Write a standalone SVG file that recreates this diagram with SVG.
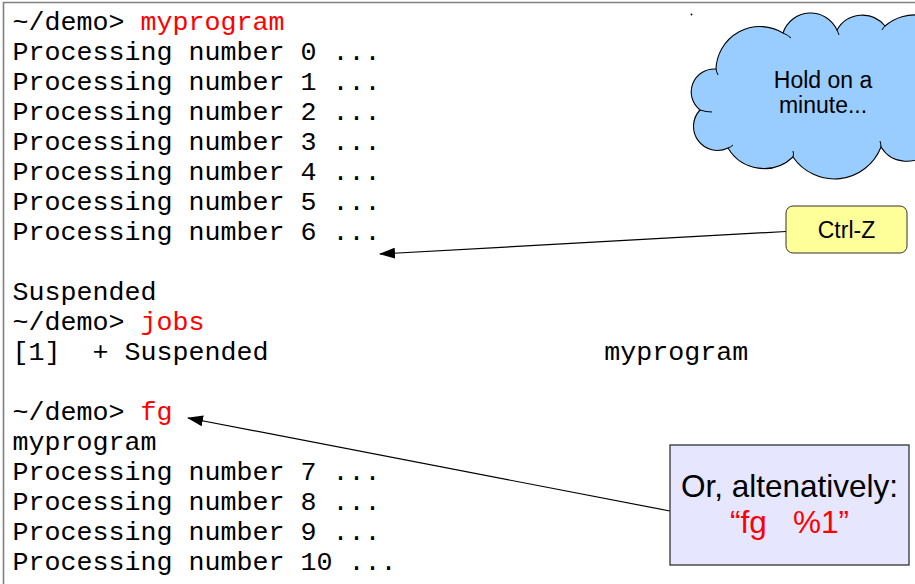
<svg xmlns="http://www.w3.org/2000/svg" width="915" height="584" viewBox="0 0 915 584">
  <style>
    .term { font-family: "Liberation Mono", "Courier New", monospace; font-size: 26.67px; fill: #000; }
    .cmd { fill: #ff0000; }
    .label { font-family: "Liberation Sans", Arial, sans-serif; fill: #000; text-anchor: middle; }
    .edge { stroke: #000; stroke-width: 1.2; fill: none; }
  </style>
  <defs>
    <marker id="arrow" viewBox="0 0 16 11" refX="15" refY="5.5" markerWidth="16" markerHeight="11" markerUnits="userSpaceOnUse" orient="auto">
      <path d="M0,0 L16,5.5 L0,11 Z" fill="#000"/>
    </marker>
  </defs>

  <rect width="915" height="584" fill="#ffffff"/>

  <!-- terminal frame -->
  <path d="M3.5,584 V2.5 H915" fill="none" stroke="#808080" stroke-width="1.6"/>

  <!-- terminal session -->
  <g id="terminal" class="term">
    <text x="12.5" y="29.5">~/demo&gt; <tspan class="cmd">myprogram</tspan></text>
    <text x="12.5" y="59.5">Processing number 0 ...</text>
    <text x="12.5" y="89.5">Processing number 1 ...</text>
    <text x="12.5" y="119.5">Processing number 2 ...</text>
    <text x="12.5" y="149.5">Processing number 3 ...</text>
    <text x="12.5" y="179.5">Processing number 4 ...</text>
    <text x="12.5" y="209.5">Processing number 5 ...</text>
    <text x="12.5" y="239.5">Processing number 6 ...</text>
    <text x="12.5" y="300">Suspended</text>
    <text x="12.5" y="330">~/demo&gt; <tspan class="cmd">jobs</tspan></text>
    <text x="12.5" y="360" xml:space="preserve">[1]  + Suspended                     myprogram</text>
    <text x="12.5" y="420">~/demo&gt; <tspan class="cmd">fg</tspan></text>
    <text x="12.5" y="450">myprogram</text>
    <text x="12.5" y="480">Processing number 7 ...</text>
    <text x="12.5" y="510">Processing number 8 ...</text>
    <text x="12.5" y="540">Processing number 9 ...</text>
    <text x="12.5" y="570">Processing number 10 ...</text>
  </g>

  <!-- connectors -->
  <g id="connectors">
    <line class="edge" x1="786" y1="231.5" x2="380" y2="254" marker-end="url(#arrow)"/>
    <line class="edge" x1="670" y1="511" x2="188" y2="418" marker-end="url(#arrow)"/>
  </g>

  <!-- thought cloud -->
  <g id="cloud">
    <path d="M716,69 A44,44 0 0 1 783,33 A29,29 0 0 1 837,30 A29,29 0 0 1 885,26 A45,45 0 0 1 955,40 L930,150 A30,30 0 0 1 881,147 A50,50 0 0 1 793,157 A42,42 0 0 1 728,148 A24,24 0 0 1 700,110 A23,23 0 0 1 716,69 Z" fill="#99ccff" stroke="#000" stroke-width="1.1"/>
    <path d="M716,69 q0.5,3 2,6 M700,110 q6,2 12,2 M728,148 q3,-1 5,-3 M793,157 q1,-3 0,-6 M881,147 q0,-3 -1,-6 M783,33 q5,2 8,5 M837,30 q1,2 2,5 M885,26 q-2,2 -3,4" fill="none" stroke="#000" stroke-width="1"/>
    <circle cx="691.5" cy="14.5" r="0.9" fill="#000"/>
    <text class="label" x="823" y="88" font-size="23">Hold on a</text>
    <text class="label" x="823" y="113" font-size="23">minute...</text>
  </g>

  <!-- Ctrl-Z callout -->
  <g id="ctrlz">
    <rect x="786" y="206" width="121" height="47" rx="7" ry="7" fill="#ffff99" stroke="#333" stroke-width="1"/>
    <text class="label" x="846.5" y="238" font-size="23">Ctrl-Z</text>
  </g>

  <!-- alternative command box -->
  <g id="alternative">
    <rect x="670" y="445" width="239" height="120" fill="#e6e6ff" stroke="#333" stroke-width="1.3"/>
    <text class="label" x="789.5" y="497" font-size="31.5">Or, altenatively:</text>
    <text class="label" x="789.5" y="533" font-size="31.5" style="fill:#ff0000" xml:space="preserve">“fg   %1”</text>
  </g>
</svg>
